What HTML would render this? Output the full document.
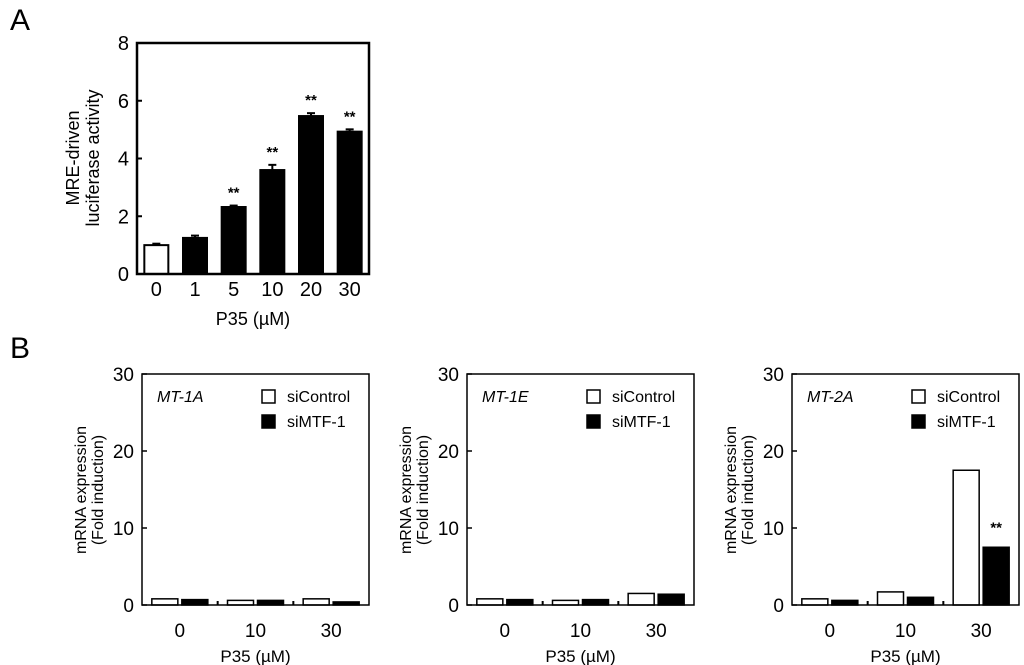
<!DOCTYPE html>
<html><head><meta charset="utf-8">
<style>
html,body{margin:0;padding:0;background:#fff;}
svg{display:block;font-family:"Liberation Sans",sans-serif;}
</style></head>
<body>
<svg id="fig" width="1024" height="665" viewBox="0 0 1024 665"></svg>
<script>
// Panel A data
const catsA = ["0","1","5","10","20","30"];
const valsA = [1.0, 1.25, 2.32, 3.6, 5.47, 4.93];
const errA = [0.05, 0.08, 0.05, 0.18, 0.1, 0.08];
const sigA = [false, false, true, true, true, true];
const ticksA = [0,2,4,6,8];
// Panel B data
const catsB = ["0","10","30"];
const genesB = ["MT-1A","MT-1E","MT-2A"];
const siControlB = [[0.8,0.6,0.8],[0.8,0.6,1.5],[0.8,1.7,17.5]];
const siMTF1B = [[0.7,0.6,0.4],[0.7,0.7,1.4],[0.6,1.0,7.5]];
const sigB = [[false,false,false],[false,false,false],[false,false,true]];
const ticksB = [0,10,20,30];

const NS="http://www.w3.org/2000/svg";
const svg=document.getElementById('fig');
function mk(tag,attrs,parent){const e=document.createElementNS(NS,tag);for(const k in attrs)e.setAttribute(k,attrs[k]);(parent||svg).appendChild(e);return e;}
function txt(s,x,y,size,anchor,parent,extra){const t=mk('text',Object.assign({x:x,y:y,'font-size':size,'text-anchor':anchor||'middle',fill:'#000'},extra||{}),parent);t.textContent=s;return t;}

let la=txt("A",10,30,30,'start');


let lb=txt("B",10,358,30,'start');



// ----- Panel A -----
(function(){
  const g=mk('g',{});
  
  
  const L=137,R=369,T=43,B=274;
  const y=v=>B-(v/8)*(B-T);
  const step=(R-L)/catsA.length;
  const x=i=>L+step*(i+0.5);
  const bw=24;
  catsA.forEach((c,i)=>{
    const isCtl=i===0;
    const bar=mk('rect',{x:x(i)-bw/2,y:y(valsA[i]),width:bw,height:B-y(valsA[i]),fill:isCtl?'#fff':'#000',stroke:'#000','stroke-width':2},g);
    
    
    const e=mk('line',{x1:x(i),x2:x(i),y1:y(valsA[i]),y2:y(valsA[i]+errA[i]),stroke:'#000','stroke-width':2},g);
    
    
    mk('line',{x1:x(i)-4,x2:x(i)+4,y1:y(valsA[i]+errA[i]),y2:y(valsA[i]+errA[i]),stroke:'#000','stroke-width':2},g);
    if(sigA[i]){const s=txt("**",x(i),y(valsA[i]+errA[i])-8,15,'middle',g,{'font-weight':'bold'});
      
      }
    const t=txt(c,x(i),296,20,'middle',g);
    
    
  });
  const ax=mk('rect',{x:L,y:T,width:R-L,height:B-T,fill:'none',stroke:'#000','stroke-width':2.5},g);
  
  
  ticksA.forEach(v=>{
    const t=txt(String(v),129,y(v)+7,20,'end',g);
    
    
    mk('line',{x1:L,x2:L+5,y1:y(v),y2:y(v),stroke:'#000','stroke-width':2},g);
  });
  const xt=txt("P35 (\u00b5M)",253,325,18,'middle',g);
  
  
  const yt=mk('text',{transform:'translate(79,158) rotate(-90)','font-size':18,'text-anchor':'middle',fill:'#000'},g);
  
  
  const t1=mk('tspan',{x:0,dy:0},yt);t1.textContent="MRE-driven";
  const t2=mk('tspan',{x:0,dy:20},yt);t2.textContent="luciferase activity";
})();

// ----- Panel B -----
genesB.forEach((gene,p)=>{
  const off=p*325;
  const g=mk('g',{});
  
  
  const L=142+off,R=369+off,T=374,B=605;
  const y=v=>B-(v/30)*(B-T);
  const step=(R-L)/catsB.length;
  const cx=i=>L+step*(i+0.5);
  const bw=26;
  catsB.forEach((c,i)=>{
    const vc=siControlB[p][i], vm=siMTF1B[p][i];
    const b1=mk('rect',{x:cx(i)-bw-2,y:y(vc),width:bw,height:B-y(vc),fill:'#fff',stroke:'#000','stroke-width':1.5},g);
    
    
    const b2=mk('rect',{x:cx(i)+2,y:y(vm),width:bw,height:B-y(vm),fill:'#000',stroke:'#000','stroke-width':1.5},g);
    
    
    if(sigB[p][i]){const s=txt("**",cx(i)+2+bw/2,y(vm)-15,15,'middle',g,{'font-weight':'bold'});
      
      }
    const t=txt(c,cx(i),637,19,'middle',g);
    
    
    if(i>0) mk('line',{x1:L+step*i,x2:L+step*i,y1:B,y2:B-4,stroke:'#000','stroke-width':2},g);
  });
  const ax=mk('rect',{x:L,y:T,width:R-L,height:B-T,fill:'none',stroke:'#000','stroke-width':1.5},g);
  
  
  ticksB.forEach(v=>{
    const t=txt(String(v),134+off,y(v)+7,19,'end',g);
    
    
    mk('line',{x1:L,x2:L+5,y1:y(v),y2:y(v),stroke:'#000','stroke-width':1.5},g);
  });
  const gt=txt(gene,L+15,402,16,'start',g,{'font-style':'italic'});
  
  
  const s1=mk('rect',{x:L+120,y:390,width:13,height:13,fill:'#fff',stroke:'#000','stroke-width':1.5},g);
  
  
  const l1=txt("siControl",L+145,402,16,'start',g);
  
  
  const s2=mk('rect',{x:L+120,y:415,width:13,height:13,fill:'#000',stroke:'#000','stroke-width':1.5},g);
  
  
  const l2=txt("siMTF-1",L+145,427,16,'start',g);
  
  
  const xt=txt("P35 (\u00b5M)",(L+R)/2,662,17,'middle',g);
  
  
  const yt=mk('text',{transform:'translate('+(86+off)+',490) rotate(-90)','font-size':16,'text-anchor':'middle',fill:'#000'},g);
  
  
  const a=mk('tspan',{x:0,dy:0},yt);a.textContent="mRNA expression";
  const b=mk('tspan',{x:0,dy:17},yt);b.textContent="(Fold induction)";
});
</script>
</body></html>
